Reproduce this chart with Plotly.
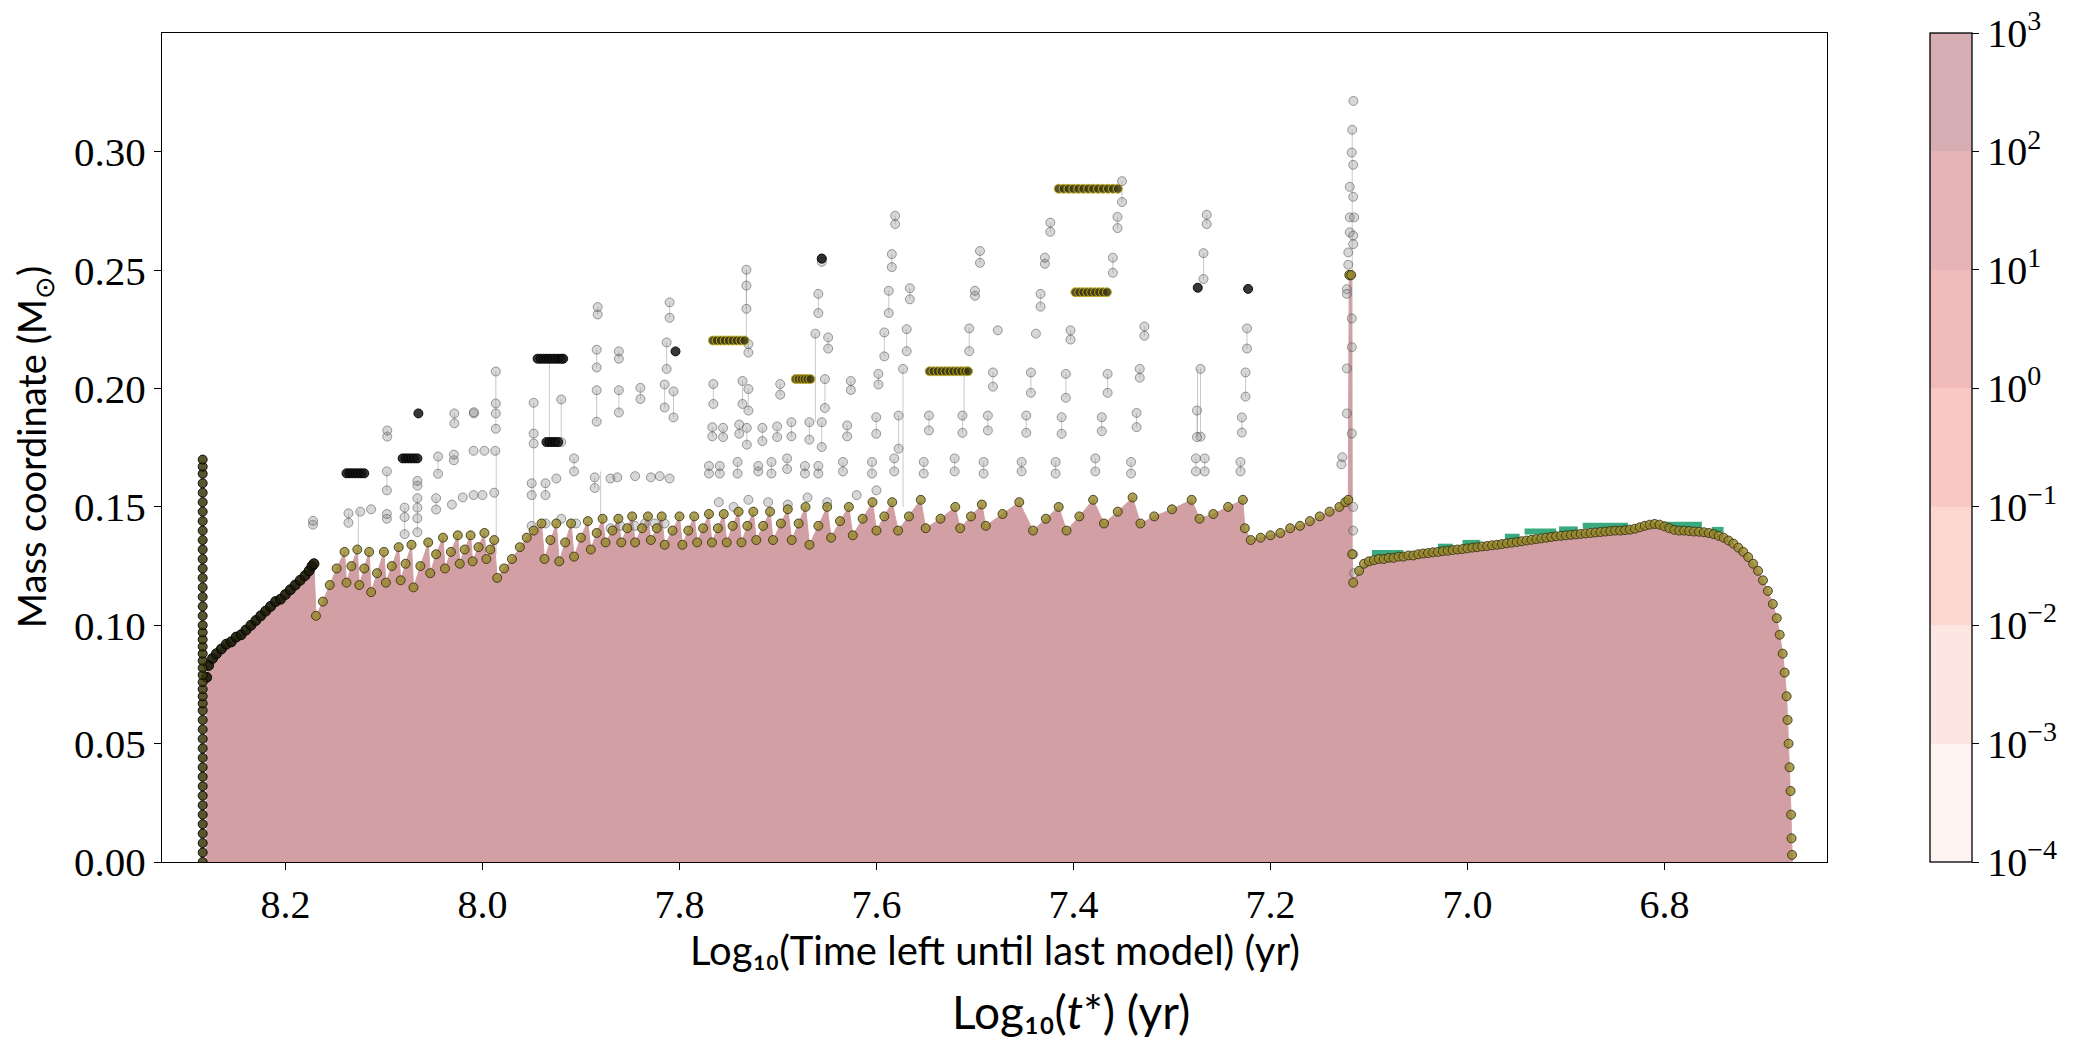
import plotly.graph_objects as go

# ---------------- axes / colorbar data ----------------
X_TICKS = [8.2, 8.0, 7.8, 7.6, 7.4, 7.2, 7.0, 6.8]
Y_TICKS = [0.00, 0.05, 0.10, 0.15, 0.20, 0.25, 0.30]
CB_EXP = [-4, -3, -2, -1, 0, 1, 2, 3]
CB_TEXT = ["10<sup>\u22124</sup>", "10<sup>\u22123</sup>", "10<sup>\u22122</sup>", "10<sup>\u22121</sup>",
           "10<sup>0</sup>", "10<sup>1</sup>", "10<sup>2</sup>", "10<sup>3</sup>"]
CB_COLORS = ["#fef3f0", "#fde6e1", "#fbd7cf", "#f8c9c3", "#f1babb", "#e6b3b6", "#d5adb3"]

# ---------------- boundary of the filled zone ----------------
bound_x = [8.280, 8.280, 8.278, 8.274, 8.270, 8.265, 8.260, 8.255, 8.250, 8.245, 8.240, 8.235, 8.230,
           8.225, 8.220, 8.215, 8.210, 8.205, 8.200, 8.195, 8.190, 8.185, 8.180, 8.176, 8.173, 8.171,
           8.169, 8.162, 8.155, 8.148, 8.140,
           8.138, 8.133, 8.127, 8.125, 8.120, 8.115, 8.113, 8.107, 8.100, 8.098, 8.092, 8.085,
           8.083, 8.078, 8.072, 8.070, 8.063, 8.055, 8.053, 8.047, 8.040, 8.038, 8.032, 8.025,
           8.023, 8.018, 8.012, 8.010, 8.004, 7.998, 7.996, 7.992, 7.988,
           7.985, 7.978, 7.970, 7.962, 7.955, 7.948, 7.940,
           7.937, 7.931, 7.925, 7.922, 7.916, 7.910, 7.907, 7.900, 7.893, 7.890, 7.884, 7.878,
           7.875, 7.868, 7.862, 7.859, 7.853, 7.848, 7.845, 7.838, 7.832, 7.829, 7.823, 7.818,
           7.815, 7.807, 7.800, 7.797, 7.791, 7.785, 7.782, 7.776, 7.770, 7.767, 7.761, 7.755,
           7.752, 7.746, 7.740, 7.737, 7.731, 7.725, 7.722, 7.715, 7.708, 7.705, 7.697, 7.690,
           7.686, 7.679, 7.672, 7.668, 7.659, 7.650, 7.646, 7.637, 7.628, 7.624, 7.614, 7.604,
           7.600, 7.592, 7.584, 7.578, 7.567, 7.555, 7.550, 7.535, 7.520, 7.515, 7.504, 7.493,
           7.489, 7.472, 7.455, 7.441, 7.428, 7.415, 7.407, 7.394, 7.380, 7.369, 7.355, 7.340,
           7.332, 7.318, 7.300, 7.280, 7.272, 7.258, 7.243, 7.228,
           7.226, 7.220, 7.210, 7.200, 7.190, 7.180, 7.170, 7.160, 7.150, 7.140, 7.130, 7.124,
           7.121, 7.120, 7.118, 7.117, 7.116,
           7.110, 7.105, 7.100, 7.095, 7.090, 7.085, 7.080, 7.075, 7.070, 7.065, 7.060, 7.055,
           7.050, 7.045, 7.040, 7.035, 7.030, 7.025, 7.020, 7.015, 7.010, 7.005, 7.000, 6.995,
           6.990, 6.985, 6.980, 6.975, 6.970, 6.965, 6.960, 6.955, 6.950, 6.945, 6.940, 6.935,
           6.930, 6.925, 6.920, 6.915, 6.910, 6.905, 6.900, 6.895, 6.890, 6.885, 6.880, 6.875,
           6.870, 6.865, 6.860, 6.855, 6.850, 6.845, 6.840, 6.835, 6.830, 6.825, 6.820, 6.815,
           6.810, 6.805, 6.800, 6.795, 6.790, 6.785, 6.780, 6.775, 6.770, 6.765, 6.760, 6.755,
           6.750, 6.745, 6.740, 6.735, 6.730, 6.725, 6.720, 6.715, 6.710, 6.705, 6.700, 6.695,
           6.690, 6.686, 6.683, 6.680, 6.678, 6.676, 6.675, 6.674, 6.673, 6.672, 6.6715, 6.671,
           6.6705, 6.670]
bound_y = [0.000, 0.078, 0.083, 0.086, 0.088, 0.090, 0.092, 0.093, 0.095, 0.096, 0.098, 0.100, 0.102,
           0.104, 0.106, 0.108, 0.110, 0.111, 0.113, 0.115, 0.117, 0.119, 0.121, 0.123, 0.125, 0.126,
           0.104, 0.110, 0.117, 0.124, 0.131,
           0.118, 0.125, 0.132, 0.117, 0.124, 0.131, 0.114, 0.122, 0.131, 0.118, 0.125, 0.133,
           0.119, 0.126, 0.134, 0.116, 0.125, 0.135, 0.122, 0.130, 0.137, 0.124, 0.131, 0.138,
           0.126, 0.132, 0.138, 0.127, 0.133, 0.139, 0.128, 0.132, 0.136,
           0.120, 0.124, 0.128, 0.133, 0.137, 0.140, 0.143,
           0.128, 0.136, 0.143, 0.127, 0.135, 0.143, 0.129, 0.137, 0.144, 0.132, 0.139, 0.145,
           0.135, 0.140, 0.145, 0.135, 0.141, 0.146, 0.135, 0.141, 0.146, 0.136, 0.141, 0.146,
           0.134, 0.140, 0.146, 0.134, 0.140, 0.146, 0.135, 0.141, 0.147, 0.135, 0.141, 0.147,
           0.135, 0.142, 0.148, 0.135, 0.142, 0.148, 0.136, 0.142, 0.148, 0.136, 0.143, 0.149,
           0.136, 0.143, 0.150, 0.134, 0.142, 0.150, 0.137, 0.144, 0.150, 0.138, 0.145, 0.152,
           0.140, 0.146, 0.152, 0.140, 0.146, 0.153, 0.141, 0.145, 0.150, 0.141, 0.146, 0.151,
           0.142, 0.147, 0.152, 0.140, 0.145, 0.150, 0.140, 0.146, 0.153, 0.143, 0.148, 0.154,
           0.143, 0.146, 0.149, 0.153, 0.145, 0.147, 0.150, 0.153,
           0.141, 0.136, 0.137, 0.138, 0.139, 0.141, 0.142, 0.144, 0.146, 0.148, 0.150, 0.152,
           0.153, 0.248, 0.248, 0.130, 0.118,
           0.123, 0.126, 0.127, 0.1275, 0.128, 0.128, 0.1285, 0.1285, 0.129, 0.129, 0.1295, 0.1295,
           0.130, 0.1303, 0.1305, 0.1308, 0.131, 0.1313, 0.1315, 0.1318, 0.132, 0.1322, 0.1325, 0.1328,
           0.133, 0.1333, 0.1335, 0.1338, 0.134, 0.1343, 0.1346, 0.1349, 0.1352, 0.1355, 0.1358, 0.1361,
           0.1364, 0.1367, 0.137, 0.1373, 0.1376, 0.1378, 0.138, 0.1382, 0.1384, 0.1386, 0.1388, 0.139,
           0.1392, 0.1394, 0.1396, 0.1398, 0.140, 0.140, 0.1402, 0.1404, 0.1408, 0.1414, 0.142, 0.1425,
           0.1428, 0.1425, 0.1418, 0.141, 0.1403, 0.140, 0.140, 0.1398, 0.1396, 0.1395, 0.1393, 0.139,
           0.1385, 0.1378, 0.137, 0.1358, 0.1345, 0.1328, 0.131, 0.1288, 0.126, 0.123, 0.119, 0.1145,
           0.109, 0.103, 0.096, 0.088, 0.080, 0.070, 0.060, 0.050, 0.040, 0.030, 0.020, 0.010,
           0.003, 0.000]

# ---------------- green step band (right part) ----------------
green_x0 = [7.097, 7.030, 7.005, 6.962, 6.942, 6.907, 6.883, 6.802, 6.752]
green_x1 = [7.065, 7.015, 6.987, 6.947, 6.910, 6.888, 6.837, 6.762, 6.740]
green_y = [0.1305, 0.1332, 0.1348, 0.1374, 0.1396, 0.1405, 0.1420, 0.1425, 0.1403]

# ---------------- left spike (dense dark points) ----------------
lspike_y = [0.000, 0.004, 0.008, 0.012, 0.016, 0.020, 0.024, 0.028, 0.032, 0.036, 0.040, 0.044,
            0.048, 0.052, 0.056, 0.060, 0.064, 0.067, 0.070, 0.073, 0.076, 0.079, 0.082, 0.085,
            0.088, 0.091, 0.094, 0.097, 0.100, 0.104, 0.108, 0.112, 0.116, 0.120, 0.124, 0.128,
            0.132, 0.136, 0.140, 0.144, 0.148, 0.152, 0.156, 0.160, 0.164, 0.167, 0.170]
LSPIKE_X = 8.284

# ---------------- gray pairs (x, lower, upper) ----------------
pair_x = [8.172, 8.136, 8.097, 8.097, 8.0966, 8.079, 8.066, 8.066, 8.045, 8.047, 8.029, 8.0285,
          8.0087, 7.9864, 7.950, 7.948, 7.936, 7.920, 7.907, 7.886, 7.883, 7.884, 7.884, 7.8615,
          7.8615, 7.8396, 7.810, 7.813, 7.815, 7.806,
          7.7656, 7.736, 7.732, 7.730, 7.730, 7.6977, 7.659, 7.6555, 7.649, 7.6523, 7.626, 7.598,
          7.592, 7.5875, 7.5844, 7.581, 7.5693, 7.5661, 7.5058, 7.500, 7.4949, 7.4817, 7.4432,
          7.4334, 7.429, 7.4235, 7.4077, 7.403, 7.3653, 7.360, 7.3553, 7.3507, 7.3327, 7.328,
          7.271, 7.268, 7.2647, 7.2238, 7.2253, 7.229,
          7.7666, 7.7557, 7.7393, 7.7316, 7.7158, 7.7008, 7.6863, 7.6681, 7.6555, 7.6297, 7.6002,
          7.5775, 7.5467, 7.5127, 7.4869, 7.4479, 7.412, 7.3712, 7.3359, 7.2746,
          7.770, 7.759, 7.741, 7.720, 7.7066, 7.6907, 7.6726, 7.659, 7.634, 7.6045, 7.5819, 7.552,
          7.5206, 7.4912, 7.4526, 7.4181, 7.3778, 7.3415, 7.2757, 7.2667, 7.2304]
pair_lo = [0.1425, 0.1433, 0.157, 0.145, 0.1797, 0.1385, 0.1393, 0.159, 0.164, 0.1489, 0.1697, 0.1853,
           0.1895, 0.183, 0.155, 0.1768, 0.155, 0.1774, 0.165, 0.158, 0.2313, 0.2089, 0.186, 0.2126,
           0.1899, 0.1956, 0.2299, 0.2083, 0.192, 0.1878,
           0.1935, 0.1935, 0.2337, 0.2152, 0.1907, 0.1974, 0.2319, 0.2535, 0.2169, 0.1918, 0.1994, 0.2017,
           0.2136, 0.2319, 0.2513, 0.2695, 0.2158, 0.2377, 0.2158, 0.2392, 0.2531, 0.2008, 0.1982,
           0.2346, 0.2527, 0.2662, 0.1961, 0.2207, 0.1982, 0.2489, 0.2678, 0.2788, 0.2046, 0.2223,
           0.1797, 0.2463, 0.2695, 0.2169, 0.1966, 0.1814,
           0.1798, 0.1795, 0.1809, 0.1763, 0.1778, 0.1795, 0.1798, 0.1784, 0.1753, 0.1798, 0.1809,
           0.1746, 0.1823, 0.1813, 0.1823, 0.1813, 0.1809, 0.1820, 0.1837, 0.1795,
           0.1641, 0.1641, 0.1641, 0.1650, 0.1641, 0.1660, 0.1641, 0.1641, 0.1650, 0.1641, 0.1650, 0.1641,
           0.1650, 0.1641, 0.1650, 0.1641, 0.1650, 0.1641, 0.1650, 0.1650, 0.1650]
pair_hi = [0.1441, 0.1473, 0.165, 0.147, 0.1823, 0.1497, 0.1537, 0.161, 0.1713, 0.1537, 0.1721, 0.1895,
           0.1900, 0.2072, 0.160, 0.194, 0.160, 0.1954, 0.1705, 0.1625, 0.2344, 0.2164, 0.1993, 0.2157,
           0.1993, 0.2003, 0.2364, 0.2195, 0.2017, 0.1988,
           0.2019, 0.2032, 0.2502, 0.2188, 0.1998, 0.2019, 0.2400, 0.2549, 0.2216, 0.2040, 0.2032, 0.2062,
           0.2237, 0.2413, 0.2568, 0.2730, 0.2251, 0.2424, 0.2254, 0.2413, 0.2581, 0.2068, 0.2068,
           0.2400, 0.2553, 0.2701, 0.2062, 0.2246, 0.2062, 0.2553, 0.2725, 0.2876, 0.2083, 0.2262,
           0.2083, 0.2572, 0.2734, 0.2254, 0.2068, 0.1878,
           0.1837, 0.1834, 0.1848, 0.1834, 0.1834, 0.1840, 0.1858, 0.1858, 0.1858, 0.1844, 0.1879,
           0.1886, 0.1886, 0.1886, 0.1886, 0.1886, 0.1879, 0.1879, 0.1897, 0.1907,
           0.1673, 0.1673, 0.1690, 0.1673, 0.1690, 0.1705, 0.1673, 0.1673, 0.1690, 0.1690, 0.1705, 0.1690,
           0.1705, 0.1690, 0.1690, 0.1690, 0.1705, 0.1690, 0.1705, 0.1705, 0.1690]

# ---------------- gray single points ----------------
single_x = [8.124, 8.113, 8.079, 8.031, 8.020, 8.009, 8.000, 7.988, 8.009, 7.998, 7.987, 7.925,
            7.950, 7.936, 7.920, 7.905, 7.870, 7.860, 7.845, 7.835, 7.825, 7.815, 7.870, 7.863,
            7.845, 7.829, 7.820, 7.810, 7.760, 7.745, 7.730, 7.710, 7.690, 7.670, 7.650, 7.620,
            7.600, 7.662, 7.573, 7.4768, 7.4381, 7.9864, 7.9864, 7.948, 7.732, 8.066, 8.066]
single_y = [0.148, 0.149, 0.1457, 0.151, 0.154, 0.155, 0.155, 0.156, 0.1737, 0.1737, 0.1737, 0.162,
            0.142, 0.143, 0.145, 0.143, 0.141, 0.142, 0.142, 0.143, 0.143, 0.143, 0.162, 0.1625,
            0.163, 0.1625, 0.163, 0.162, 0.152, 0.150, 0.153, 0.152, 0.151, 0.154, 0.152, 0.155,
            0.157, 0.2232, 0.2083, 0.2246, 0.2232, 0.1937, 0.1895, 0.181, 0.2435, 0.1452, 0.1497]

# ---------------- thin connecting lines (x, lower, upper) ----------------
link_x = [8.126, 7.986, 7.932, 7.948, 7.880, 7.732, 7.662, 7.573, 7.511, 7.274, 7.117]
link_lo = [0.131, 0.130, 0.1774, 0.140, 0.145, 0.2203, 0.186, 0.150, 0.186, 0.1797, 0.153]
link_hi = [0.1485, 0.1737, 0.2126, 0.1768, 0.165, 0.2502, 0.2232, 0.2083, 0.2073, 0.2083, 0.3093]

# ---------------- spike near 7.12 ----------------
spike_x = [7.1158, 7.117, 7.1175, 7.116, 7.1195, 7.116, 7.1195, 7.115, 7.1195, 7.116, 7.116, 7.121,
           7.121, 7.119, 7.1224, 7.1224, 7.1174, 7.1174, 7.1224, 7.1224, 7.1174, 7.127, 7.128, 7.116,
           7.116, 7.116, 7.115]
spike_y = [0.3215, 0.3093, 0.2997, 0.2945, 0.2852, 0.281, 0.2723, 0.2723, 0.266, 0.2646, 0.261, 0.2575,
           0.2523, 0.2477, 0.242, 0.240, 0.2296, 0.2175, 0.2085, 0.1895, 0.181, 0.171, 0.168, 0.150,
           0.140, 0.130, 0.122]

# ---------------- dense dark clusters ----------------
dark_cl_x = [8.138, 8.135, 8.132, 8.129, 8.126, 8.123, 8.120,
             8.081, 8.078, 8.075, 8.072, 8.069, 8.066,
             7.944, 7.941, 7.938, 7.935, 7.932, 7.929, 7.926, 7.923, 7.920, 7.918,
             7.935, 7.932, 7.929, 7.926, 7.923,
             8.065, 7.804, 7.6555, 7.2227, 7.2738]
dark_cl_y = [0.1642, 0.1642, 0.1642, 0.1642, 0.1642, 0.1642, 0.1642,
             0.1705, 0.1705, 0.1705, 0.1705, 0.1705, 0.1705,
             0.2126, 0.2126, 0.2126, 0.2126, 0.2126, 0.2126, 0.2126, 0.2126, 0.2126, 0.2126,
             0.1774, 0.1774, 0.1774, 0.1774, 0.1774,
             0.1895, 0.2157, 0.2549, 0.2421, 0.2426]
olive_cl_x = [7.766, 7.762, 7.758, 7.754, 7.750, 7.746, 7.742, 7.738, 7.734,
              7.682, 7.679, 7.676, 7.673, 7.670, 7.667,
              7.546, 7.542, 7.538, 7.534, 7.530, 7.526, 7.522, 7.518, 7.514, 7.510, 7.507,
              7.415, 7.410, 7.405, 7.400, 7.395, 7.390, 7.385, 7.380, 7.375, 7.370, 7.365, 7.360, 7.355,
              7.398, 7.394, 7.390, 7.386, 7.382, 7.378, 7.374, 7.370, 7.366]
olive_cl_y = [0.2203] * 9 + [0.2040] * 6 + [0.2073] * 11 + [0.2844] * 13 + [0.2407] * 9

# ---------------- figure ----------------
PINK = "rgb(210,160,164)"
SERIF = "Liberation Serif"
SANS = "Lato"

fig = go.Figure()

fig.add_trace(go.Scatter(x=bound_x, y=bound_y, mode="lines", fill="tozeroy",
                         fillcolor=PINK, line=dict(color=PINK, width=1), hoverinfo="skip"))

gx, gy = [], []
for a, b, y in zip(green_x0, green_x1, green_y):
    gx += [a, b, None]
    gy += [y, y, None]
fig.add_trace(go.Scatter(x=gx, y=gy, mode="lines", line=dict(color="#3aab80", width=6), hoverinfo="skip"))

lx, ly = [], []
for x, lo, hi in zip(link_x + pair_x, link_lo + pair_lo, link_hi + pair_hi):
    lx += [x, x, None]
    ly += [lo, hi, None]
fig.add_trace(go.Scatter(x=lx, y=ly, mode="lines", line=dict(color="rgba(150,150,150,0.5)", width=1),
                         hoverinfo="skip"))

gray_x = pair_x + pair_x + single_x + spike_x
gray_y = pair_lo + pair_hi + single_y + spike_y
fig.add_trace(go.Scatter(x=gray_x, y=gray_y, mode="markers",
                         marker=dict(size=9, color="rgba(140,140,140,0.35)",
                                     line=dict(color="rgba(70,70,70,0.5)", width=1)), hoverinfo="skip"))

# boundary markers
left_idx = [i for i in range(1, len(bound_x) - 1) if bound_x[i] >= 8.171]
rest_idx = [i for i in range(1, len(bound_x) - 1) if bound_x[i] < 8.171]
fig.add_trace(go.Scatter(x=[bound_x[i] for i in rest_idx], y=[bound_y[i] for i in rest_idx], mode="markers",
                         marker=dict(size=9, color="rgba(150,135,40,0.8)",
                                     line=dict(color="rgba(45,40,10,0.8)", width=1)), hoverinfo="skip"))
fig.add_trace(go.Scatter(x=[bound_x[i] for i in left_idx], y=[bound_y[i] for i in left_idx], mode="markers",
                         marker=dict(size=10, color="rgba(25,25,5,0.9)",
                                     line=dict(color="rgba(0,0,0,0.9)", width=1)), hoverinfo="skip"))
fig.add_trace(go.Scatter(x=[LSPIKE_X] * len(lspike_y), y=lspike_y, mode="markers",
                         marker=dict(size=9, color="rgba(60,55,10,0.85)",
                                     line=dict(color="rgba(0,0,0,0.9)", width=1)), hoverinfo="skip"))
fig.add_trace(go.Scatter(x=dark_cl_x, y=dark_cl_y, mode="markers",
                         marker=dict(size=9, color="rgba(20,20,20,0.85)",
                                     line=dict(color="rgba(0,0,0,0.9)", width=1)), hoverinfo="skip"))
fig.add_trace(go.Scatter(x=olive_cl_x, y=olive_cl_y, mode="markers",
                         marker=dict(size=9, color="rgba(60,55,15,0.85)",
                                     line=dict(color="rgba(200,180,30,0.9)", width=1)), hoverinfo="skip"))

# colorbar carrier (points lie outside the axis ranges)
cscale = []
for i, c in enumerate(CB_COLORS):
    cscale += [[i / 7, c], [(i + 1) / 7, c]]
CB_X0 = (1930 - 162.3) / 1664.4
CB_X1 = (1972 - 162.3) / 1664.4
fig.add_trace(go.Scatter(x=[9.0, 9.0], y=[-1, -1], mode="markers",
                         marker=dict(size=1, color=[CB_EXP[0], CB_EXP[-1]], cmin=CB_EXP[0], cmax=CB_EXP[-1],
                                     colorscale=cscale, showscale=True,
                                     colorbar=dict(x=CB_X0, xanchor="left", y=0.5, yanchor="middle",
                                                   len=1, lenmode="fraction", thickness=42,
                                                   thicknessmode="pixels", xpad=0, ypad=0,
                                                   outlinewidth=1.3, outlinecolor="black",
                                                   tickvals=CB_EXP, ticktext=CB_TEXT, ticks="outside",
                                                   ticklen=7, tickwidth=1, tickcolor="black",
                                                   tickfont=dict(family=SERIF, size=40, color="black"))),
                         hoverinfo="skip"))

shapes = []
for k in range(1, 7):
    shapes.append(dict(type="line", xref="paper", yref="paper", x0=CB_X0, x1=CB_X1, y0=k / 7, y1=k / 7,
                       line=dict(color="rgba(205,115,115,0.55)", width=1)))

fig.update_layout(
    width=2073, height=1045,
    margin=dict(l=162, r=246, t=33, b=183),
    plot_bgcolor="white", paper_bgcolor="white",
    showlegend=False,
    shapes=shapes,
    xaxis=dict(range=[8.3253, 6.635], tickvals=X_TICKS, ticktext=[f"{v:.1f}" for v in X_TICKS],
               showline=True, mirror=True, linecolor="black", linewidth=1.3, ticks="outside",
               ticklen=7, tickwidth=1, tickcolor="black", showgrid=False, zeroline=False,
               tickfont=dict(family=SERIF, size=40, color="black")),
    yaxis=dict(range=[0, 0.3502], tickvals=Y_TICKS, ticktext=[f"{v:.2f}" for v in Y_TICKS],
               showline=True, mirror=True, linecolor="black", linewidth=1.3, ticks="outside",
               ticklen=7, tickwidth=1, tickcolor="black", showgrid=False, zeroline=False,
               tickfont=dict(family=SERIF, size=41, color="black")),
    annotations=[
        dict(xref="paper", yref="paper", x=0.5, y=(862.3 - 950) / 829.3, xanchor="center", yanchor="middle",
             showarrow=False, font=dict(family=SANS, size=40, color="black"),
             text="Log\u2081\u2080(Time left until last model) (yr)"),
        dict(xref="paper", yref="paper", x=(1071 - 162.3) / 1664.4, y=(862.3 - 1012) / 829.3,
             xanchor="center", yanchor="middle", showarrow=False,
             font=dict(family=SANS, size=46, color="black"),
             text="Log\u2081\u2080(<i>t</i>*) (yr)"),
        dict(xref="paper", yref="paper", x=(34 - 162.3) / 1664.4, y=0.5, xanchor="center", yanchor="middle",
             textangle=-90, showarrow=False, font=dict(family=SANS, size=38, color="black"),
             text="Mass coordinate (M<sub>\u2299</sub>)"),
    ],
)

fig.write_html("out.html")
